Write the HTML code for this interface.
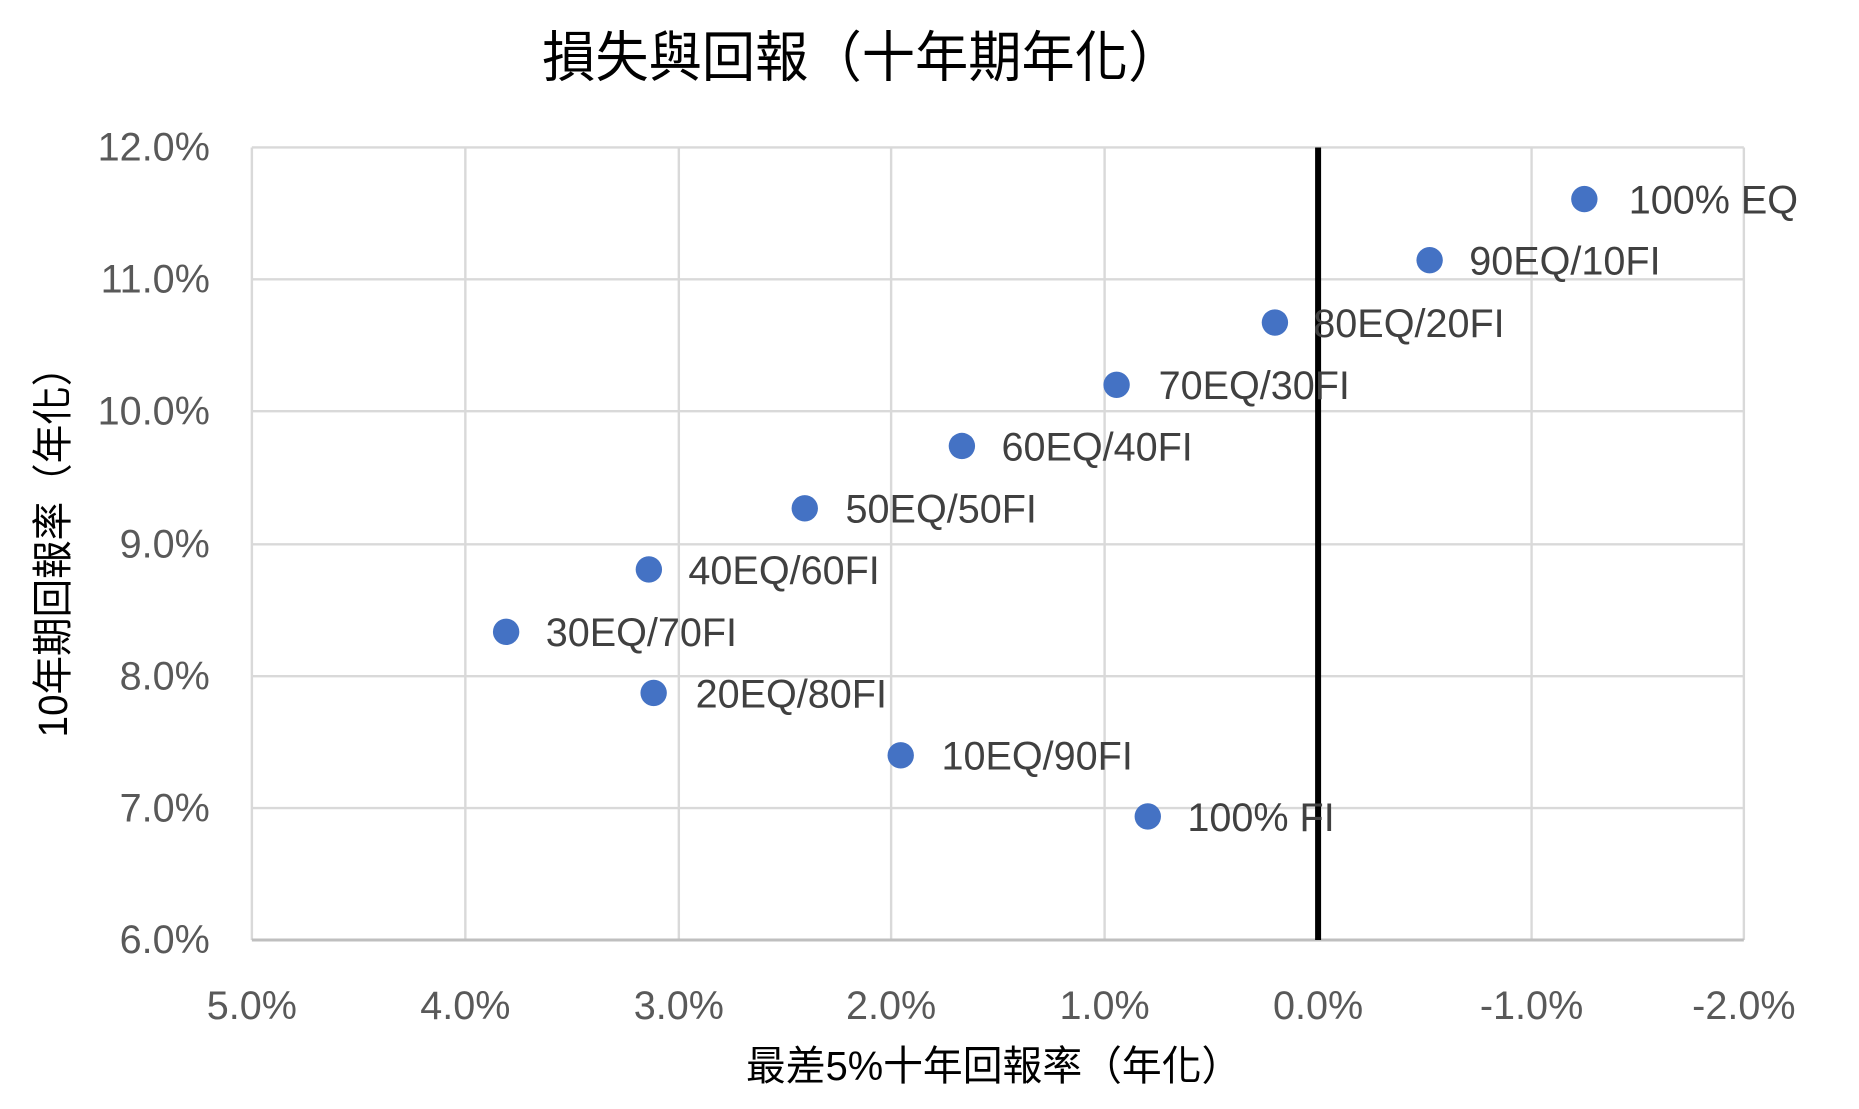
<!DOCTYPE html>
<html><head><meta charset="utf-8"><style>
html,body{margin:0;padding:0;background:#fff;}
svg{display:block;}
</style></head><body>
<svg width="1859" height="1109" viewBox="0 0 1550 925" preserveAspectRatio="none" xmlns="http://www.w3.org/2000/svg" font-family="'Liberation Sans','Noto Sans CJK TC',sans-serif">
<rect width="1550" height="925" fill="#fff"/>
<text x="452" y="64" font-size="46" textLength="533" lengthAdjust="spacingAndGlyphs" fill="#000">損失與回報（十年期年化）</text>
<g stroke="#d9d9d9" stroke-width="2">
<line x1="210" y1="123" x2="1454" y2="123"/>
<line x1="210" y1="233" x2="1454" y2="233"/>
<line x1="210" y1="343" x2="1454" y2="343"/>
<line x1="210" y1="454" x2="1454" y2="454"/>
<line x1="210" y1="564" x2="1454" y2="564"/>
<line x1="210" y1="674" x2="1454" y2="674"/>
<line x1="210" y1="123" x2="210" y2="784"/>
<line x1="388" y1="123" x2="388" y2="784"/>
<line x1="566" y1="123" x2="566" y2="784"/>
<line x1="743" y1="123" x2="743" y2="784"/>
<line x1="921" y1="123" x2="921" y2="784"/>
<line x1="1277" y1="123" x2="1277" y2="784"/>
<line x1="1454" y1="123" x2="1454" y2="784"/>
</g>
<line x1="210" y1="784" x2="1454" y2="784" stroke="#bfbfbf" stroke-width="2.5"/>
<line x1="1099" y1="123" x2="1099" y2="784" stroke="#000" stroke-width="5"/>
<g font-size="33" fill="#595959" text-anchor="end">
<text x="175" y="134">12.0%</text>
<text x="175" y="244">11.0%</text>
<text x="175" y="354">10.0%</text>
<text x="175" y="465">9.0%</text>
<text x="175" y="575">8.0%</text>
<text x="175" y="685">7.0%</text>
<text x="175" y="795">6.0%</text>
</g>
<g font-size="33" fill="#595959" text-anchor="middle">
<text x="210" y="850">5.0%</text>
<text x="388" y="850">4.0%</text>
<text x="566" y="850">3.0%</text>
<text x="743" y="850">2.0%</text>
<text x="921" y="850">1.0%</text>
<text x="1099" y="850">0.0%</text>
<text x="1277" y="850">-1.0%</text>
<text x="1454" y="850">-2.0%</text>
</g>
<text x="622" y="901" font-size="34" textLength="413" lengthAdjust="spacingAndGlyphs" fill="#000">最差5%十年回報率（年化）</text>
<text transform="translate(56,615) rotate(-90)" font-size="34" textLength="325" lengthAdjust="spacingAndGlyphs" fill="#000">10年期回報率（年化）</text>
<g fill="#4472C4">
<circle cx="1321" cy="166" r="11"/>
<circle cx="1192" cy="217" r="11"/>
<circle cx="1063" cy="269" r="11"/>
<circle cx="931" cy="321" r="11"/>
<circle cx="802" cy="372" r="11"/>
<circle cx="671" cy="424" r="11"/>
<circle cx="541" cy="475" r="11"/>
<circle cx="422" cy="527" r="11"/>
<circle cx="545" cy="578" r="11"/>
<circle cx="751" cy="630" r="11"/>
<circle cx="957" cy="681" r="11"/>
</g>
<g font-size="33" fill="#404040">
<text x="1358" y="178">100% EQ</text>
<text x="1225" y="229">90EQ/10FI</text>
<text x="1095" y="281">80EQ/20FI</text>
<text x="966" y="333">70EQ/30FI</text>
<text x="835" y="384">60EQ/40FI</text>
<text x="705" y="436">50EQ/50FI</text>
<text x="574" y="487">40EQ/60FI</text>
<text x="455" y="539">30EQ/70FI</text>
<text x="580" y="590">20EQ/80FI</text>
<text x="785" y="642">10EQ/90FI</text>
<text x="990" y="693">100% FI</text>
</g>
</svg>
</body></html>
